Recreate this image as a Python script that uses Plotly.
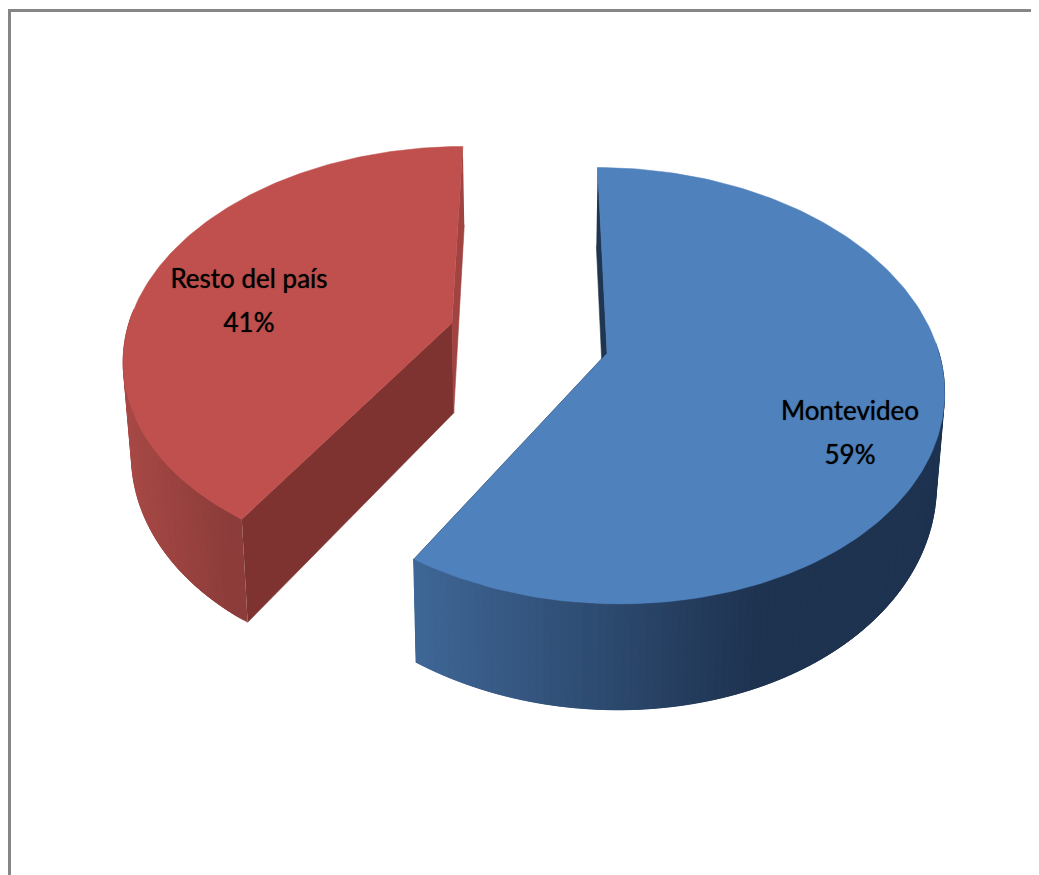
import numpy as np
import plotly.graph_objects as go

categories = ["Montevideo", "Resto del país"]
values = [59, 41]
percent_labels = ["59%", "41%"]
top_colors = ["#4f81bd", "#c0504d"]
front_wall = ["#1f3550", "#7f3331"]
back_wall = ["#1f3550", "#a04341"]
side_light = [(64, 104, 152), (168, 74, 71)]
side_dark = [(30, 51, 80), (138, 59, 57)]

W, H = 1039, 875
PAGE_MARGIN = 8
K = 0.15
VPX = 535.0
DEPTH = 90.0
Z_SCALE = 0.98
centers = [(607.0, 353.0), (452.0, 323.0)]
radius_x = [332.0, 323.0]
radius_y = [213.3, 203.0]
name_pos = [(850, 413), (249, 281)]
pct_pos = [(850, 457), (249, 325)]
FONT = "Lato"
FONT_SIZE = 26


def proj(theta, idx):
    x = np.sin(theta)
    y = -np.cos(theta)
    d = 1 - K * y
    c = centers[idx]
    return VPX + (c[0] - VPX + radius_x[idx] * x) / d, c[1] + radius_y[idx] * y / d


def drop(px, py, y):
    return VPX + (px - VPX) * Z_SCALE, py + DEPTH / (1 - K * y)


def lerp(a, b, t):
    return "rgb(%d,%d,%d)" % tuple(round(a[i] + (b[i] - a[i]) * t) for i in range(3))


fig = go.Figure()


def poly(xs, ys, color, line=0.6):
    fig.add_trace(go.Scatter(x=list(xs), y=list(ys), mode="lines", fill="toself",
                             fillcolor=color, line=dict(color=color, width=line),
                             hoverinfo="skip", showlegend=False))


total = sum(values)
fractions = np.cumsum([0] + values) / total * 2 * np.pi

for idx in (1, 0):
    a0, a1 = fractions[idx], fractions[idx + 1]
    cx, cy = centers[idx]
    th = np.linspace(a0, a1, 181)
    px, py = proj(th, idx)
    ry = -np.cos(th)
    bx, by = drop(px, py, ry)
    abx, aby = drop(cx, cy, 0.0)

    def walls():
        poly([px[0], cx, abx, bx[0]], [py[0], cy, aby, by[0]], front_wall[idx])
        poly([px[-1], cx, abx, bx[-1]], [py[-1], cy, aby, by[-1]], back_wall[idx])

    if idx == 0:
        walls()
    vis = np.where(ry > -0.05)[0]
    xmin, xmax = px[vis].min(), px[vis].max()
    span = 350.0 if idx == 0 else (xmax - xmin)
    order = sorted(vis[:-1], key=lambda j: px[j])
    for j in order:
        j2 = min(j + 3, len(px) - 1)
        t = min(1.0, max(0.0, (0.5 * (px[j] + px[j2]) - xmin) / span))
        poly(np.r_[px[j:j2 + 1], bx[j:j2 + 1][::-1]], np.r_[py[j:j2 + 1], by[j:j2 + 1][::-1]],
             lerp(side_light[idx], side_dark[idx], t), line=0.5)
    if idx == 1:
        walls()
    poly(np.r_[cx, px], np.r_[cy, py], top_colors[idx], line=0.5)

for pos, labels in ((name_pos, categories), (pct_pos, percent_labels)):
    fig.add_trace(go.Scatter(x=[p[0] for p in pos], y=[p[1] for p in pos], mode="text", text=labels,
                             textposition="middle center",
                             textfont=dict(family=FONT, size=FONT_SIZE, color="#000000",
                                           shadow="0 0 1px rgba(0,0,0,0.8)"),
                             hoverinfo="skip", showlegend=False))

fig.update_layout(
    width=W - PAGE_MARGIN, height=H - PAGE_MARGIN,
    margin=dict(l=0, r=0, t=0, b=0), autosize=False,
    paper_bgcolor="white", plot_bgcolor="white", showlegend=False,
    xaxis=dict(range=[PAGE_MARGIN, W], visible=False, fixedrange=True),
    yaxis=dict(range=[H, PAGE_MARGIN], visible=False, fixedrange=True),
    shapes=[
        dict(type="line", x0=9.5, y0=H, x1=9.5, y1=10.5, line=dict(color="#868686", width=3)),
        dict(type="line", x0=8, y0=10.5, x1=W, y1=10.5, line=dict(color="#868686", width=3)),
    ],
)
fig.write_html("out.html", config={"displayModeBar": False},
               default_width=f"{W - PAGE_MARGIN}px", default_height=f"{H - PAGE_MARGIN}px")
